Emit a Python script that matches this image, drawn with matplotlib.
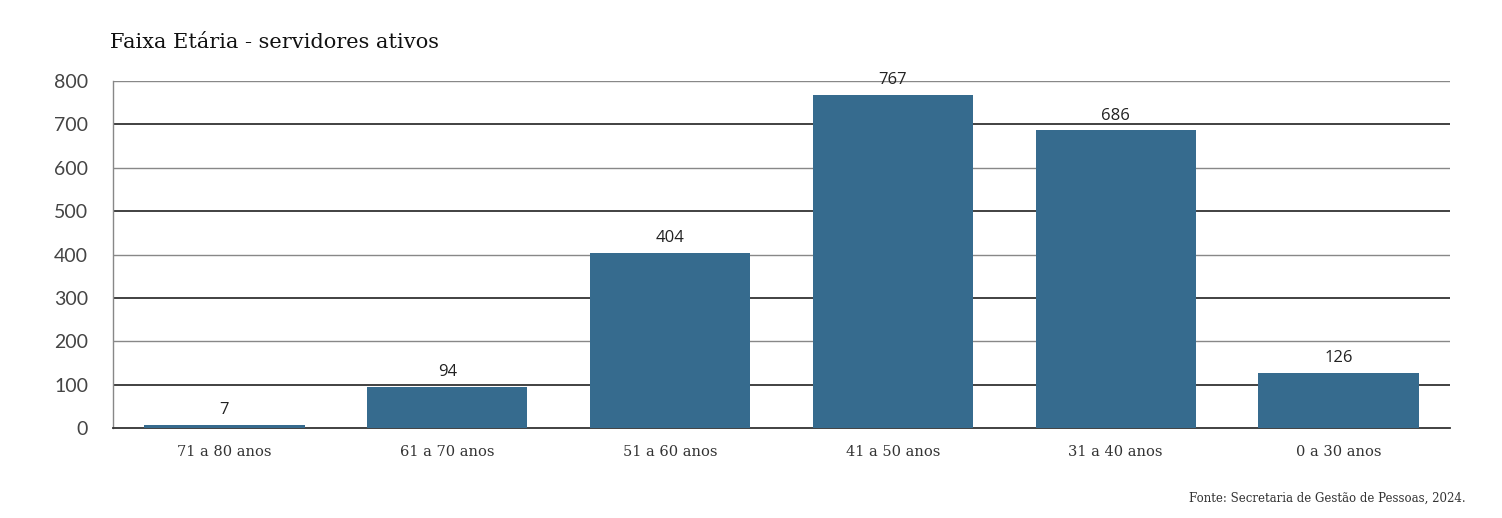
import matplotlib
matplotlib.use("Agg")
import matplotlib.pyplot as plt

categories = ["71 a 80 anos", "61 a 70 anos", "51 a 60 anos", "41 a 50 anos", "31 a 40 anos", "0 a 30 anos"]
values = [7, 94, 404, 767, 686, 126]
yticks = [0, 100, 200, 300, 400, 500, 600, 700, 800]

fig = plt.figure(figsize=(15.02, 5.18), dpi=100)
ax = fig.add_axes([113/1502, 1-428/518, (1450-113)/1502, (428-81)/518])

x = list(range(len(categories)))
bars = ax.bar(x, values, width=0.72, color="#366b8e", zorder=3)
ax.set_xlim(-0.5, len(categories)-0.5)
ax.set_ylim(0, 800)

for t in yticks[1:]:
    if t % 200 == 100:
        ax.axhline(t, color="#333333", lw=1.3, zorder=1)
    else:
        ax.axhline(t, color="#888888", lw=1.0, zorder=1)

for b, v in zip(bars, values):
    ax.annotate(str(v), (b.get_x()+b.get_width()/2, v), xytext=(0, 5), textcoords="offset points",
                ha="center", va="bottom", fontsize=12, family="Open Sans", color="#222222",
                zorder=4)

ax.set_yticks(yticks)
ax.set_yticklabels([str(t) for t in yticks], family="Lato", fontsize=14, color="#444444")
ax.set_xticks(x)
ax.set_xticklabels(categories, family="DejaVu Serif", fontsize=10.5, color="#333333")
ax.tick_params(axis="both", length=0)
ax.tick_params(axis="x", pad=12)
ax.tick_params(axis="y", pad=18)

for s in ["top", "right"]:
    ax.spines[s].set_visible(False)
ax.spines["left"].set_color("#888888")
ax.spines["left"].set_linewidth(1.0)
ax.spines["bottom"].set_color("#333333")
ax.spines["bottom"].set_linewidth(1.3)

fig.text(110/1502, 1-43/518, "Faixa Etária - servidores ativos", family="DejaVu Serif", fontsize=15,
         ha="left", va="center", color="#111111")
fig.text(1466/1502, 1-498/518, "Fonte: Secretaria de Gestão de Pessoas, 2024.", family="DejaVu Serif",
         fontsize=8.5, ha="right", va="center", color="#333333")

fig.savefig("out.png", dpi=100)
